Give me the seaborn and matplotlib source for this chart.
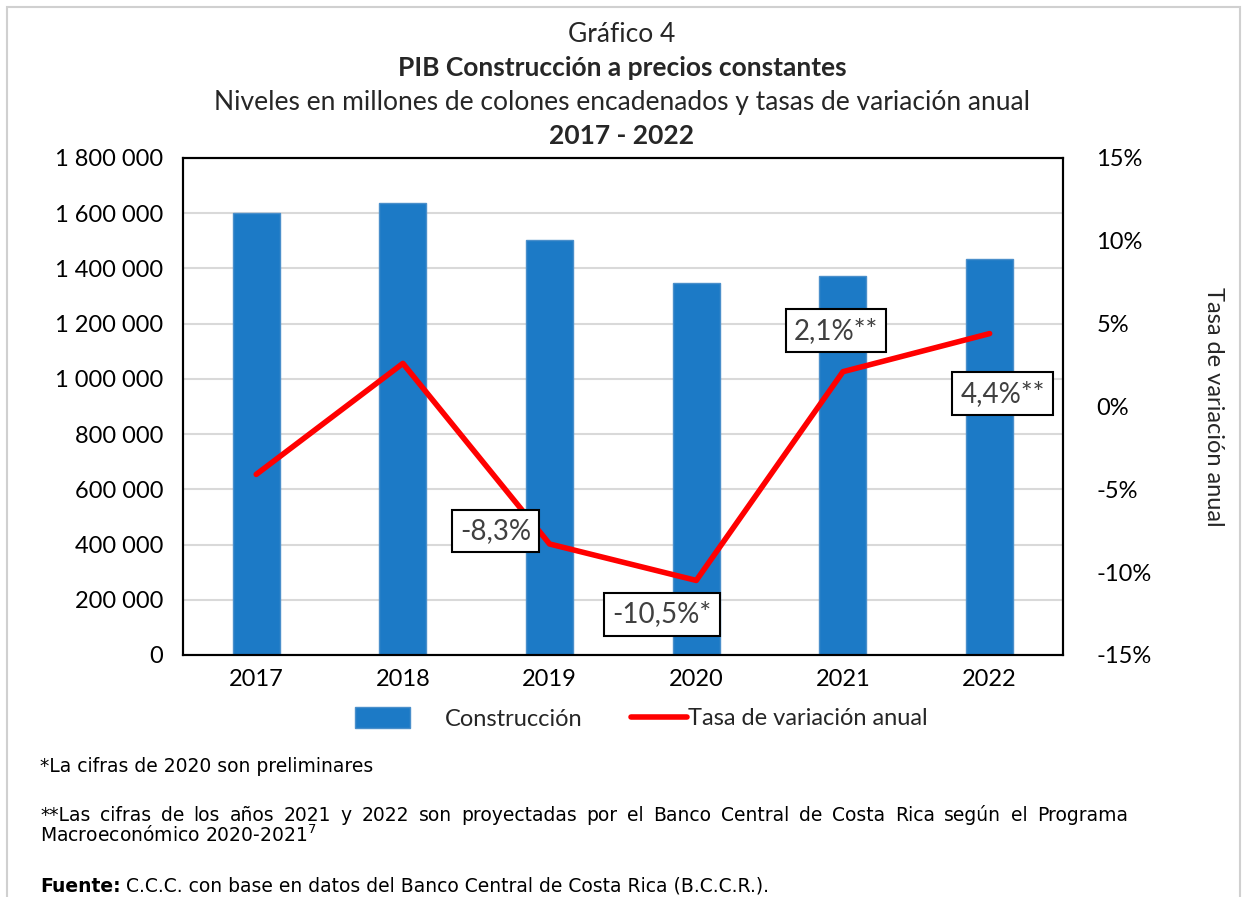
import numpy as np
import pandas as pd
import matplotlib
matplotlib.use("Agg")
import matplotlib.pyplot as plt
import seaborn as sns
from matplotlib.ticker import FuncFormatter
from matplotlib.patches import Rectangle, Patch
from matplotlib.lines import Line2D

# --- data ---
years = ["2017", "2018", "2019", "2020", "2021", "2022"]
construccion = [1600000, 1637000, 1503000, 1347000, 1373000, 1434000]
tasa = [-4.1, 2.6, -8.3, -10.5, 2.1, 4.4]
tasa_labels = ["", "", "-8,3%", "-10,5%*", "2,1%**", "4,4%**"]

sns.set_theme(style="white")
plt.rcParams['font.family'] = ['Lato', 'DejaVu Sans']

df = pd.DataFrame({"year": years, "valor": construccion, "tasa": tasa, "pos": np.arange(len(years))})

fig = plt.figure(figsize=(12.44, 8.97), dpi=100)
fig.patches.append(Rectangle((0.006, -0.01), 0.991, 1.002, transform=fig.transFigure,
                             fill=False, edgecolor="#D0D0D0", linewidth=1.5))

ax = fig.add_axes([0.147, 0.2698, 0.7075, 0.5541])
sns.barplot(data=df, x="year", y="valor", ax=ax, color="#1C7AC6", width=0.32,
            edgecolor="#4A8FCB", linewidth=1, saturation=1)
ax.set_ylim(0, 1800000)
ax.set_yticks(np.arange(0, 1800001, 200000))
ax.yaxis.set_major_formatter(FuncFormatter(lambda v, p: f"{int(v):,}".replace(",", " ")))
ax.set_xlim(-0.5, 5.5)
ax.yaxis.grid(True, color="#D9D9D9", linewidth=1.5)
ax.set_axisbelow(True)
ax.set_xlabel("")
ax.set_ylabel("")
for s in ax.spines.values():
    s.set_color("black")
    s.set_linewidth(1.5)
ax.tick_params(axis="both", labelsize=17, colors="black", length=0, pad=10)
ax.tick_params(axis="y", pad=14)

ax2 = ax.twinx()
sns.lineplot(data=df, x="pos", y="tasa", ax=ax2, color="#FF0000", linewidth=4, legend=False)
ax2.set_ylim(-15, 15)
ax2.set_yticks(np.arange(-15, 16, 5))
ax2.yaxis.set_major_formatter(FuncFormatter(lambda v, p: f"{int(v)}%"))
ax2.tick_params(axis="y", labelsize=17, colors="black", length=0, pad=24)
ax2.set_xlabel("")
ax2.set_ylabel("Tasa de variación anual", rotation=270, fontsize=17, labelpad=52)
ax2.grid(False)
for s in ax2.spines.values():
    s.set_color("black")
    s.set_linewidth(1.5)

# label boxes (pixel offsets converted to points)
label_offsets = [(0, 0), (0, 0), (-54, 13), (-34, -34), (-7, 41), (13, -60)]
for i, (lab, off) in enumerate(zip(tasa_labels, label_offsets)):
    if not lab:
        continue
    ax2.annotate(lab, xy=(i, tasa[i]), xytext=(off[0] * 0.72, off[1] * 0.72),
                 textcoords="offset points", ha="center", va="center",
                 fontsize=20, color="#404040",
                 bbox=dict(boxstyle="square,pad=0.3", fc="white", ec="black", lw=1.5))

# titles
fig.text(0.5, 0.962, "Gráfico 4", ha="center", va="center", fontsize=19)
fig.text(0.5, 0.924, "PIB Construcción a precios constantes", ha="center", va="center",
         fontsize=19, fontweight="bold")
fig.text(0.5, 0.886, "Niveles en millones de colones encadenados y tasas de variación anual",
         ha="center", va="center", fontsize=19)
fig.text(0.5, 0.848, "2017 - 2022", ha="center", va="center", fontsize=19, fontweight="bold")

# legend (Excel style: gap after the box, none after the line)
fig.legend([Patch(facecolor="#1C7AC6", edgecolor="#4A8FCB")], ["Construcción"], loc="center left",
           bbox_to_anchor=(0.268, 0.199), frameon=False, fontsize=17,
           handlelength=2.33, handleheight=1.0, handletextpad=1.5)
fig.legend([Line2D([0], [0], color="#FF0000", linewidth=4)], ["Tasa de variación anual"],
           loc="center left", bbox_to_anchor=(0.490, 0.199), frameon=False, fontsize=17,
           handlelength=2.37, handletextpad=0.05)

# footnotes
foot = dict(ha="left", va="center", fontsize=13.5, family=["DejaVu Sans"], color="black")
fig.text(0.032, 0.145, "*La cifras de 2020 son preliminares", **foot)

# justified line
line = ("**Las cifras de los años 2021 y 2022 son proyectadas por el Banco Central de "
        "Costa Rica según el Programa").split()
fig.canvas.draw()
renderer = fig.canvas.get_renderer()
x_left, x_right = 40, 1128
items = [fig.text(0, 0.091, w, **foot) for w in line]
widths = [t.get_window_extent(renderer).width for t in items]
gap = (x_right - x_left - sum(widths)) / (len(line) - 1)
x = x_left
for t, w in zip(items, widths):
    t.set_x(x / 1244)
    x += w + gap

fig.text(0.032, 0.069, "Macroeconómico 2020-2021$^7$", **foot)
fig.text(0.032, 0.012, "Fuente:", fontweight="bold", **foot)
fig.text(0.101, 0.012, "C.C.C. con base en datos del Banco Central de Costa Rica (B.C.C.R.).", **foot)

fig.savefig("out.png", dpi=100)
